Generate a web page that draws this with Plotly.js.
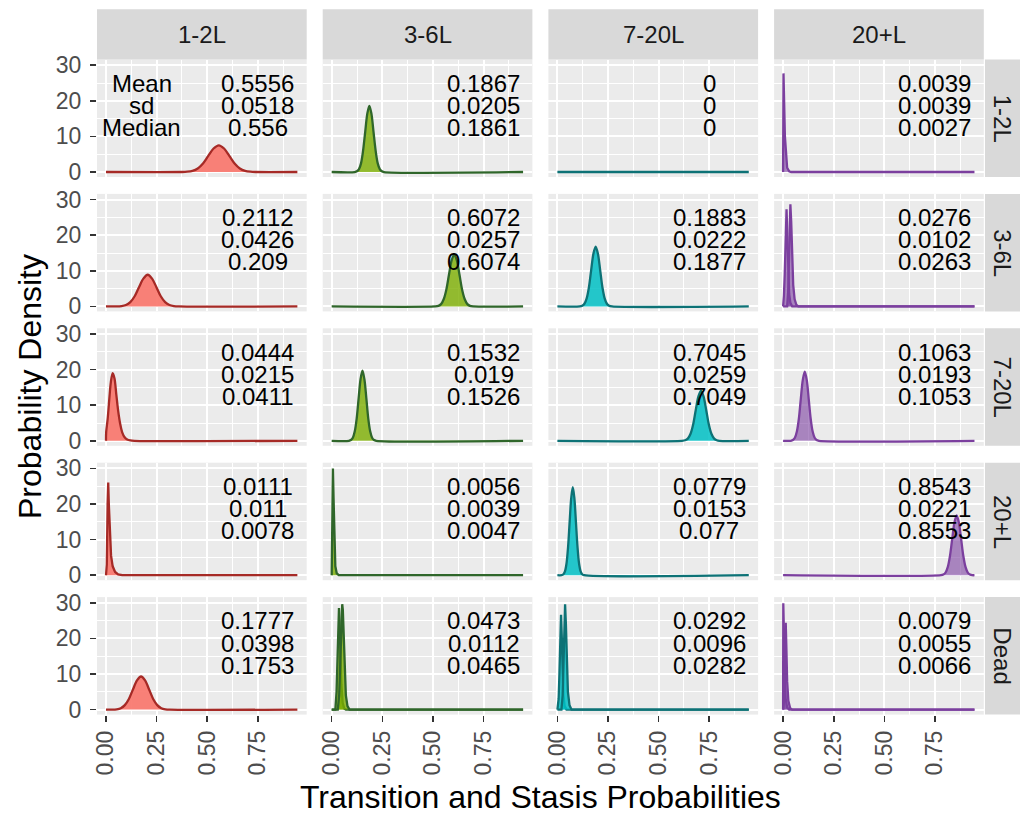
<!DOCTYPE html>
<html><head><meta charset="utf-8">
<script src="https://cdn.plot.ly/plotly-3.0.1.min.js"></script>
<style>html,body{margin:0;padding:0;background:#fff}#chart{width:1024px;height:815px}</style>
</head><body><div id="chart"></div>
<script>
// ---- facet labels ----
const colLabels = ["1-2L", "3-6L", "7-20L", "20+L"];
const rowLabels = ["1-2L", "3-6L", "7-20L", "20+L", "Dead"];
const statNames = ["Mean", "sd", "Median"];

// ---- summary statistics (row-major: row 1-2L cols 1..4, row 3-6L ...) ----
const meanLabels = ["0.5556","0.1867","0","0.0039",
                    "0.2112","0.6072","0.1883","0.0276",
                    "0.0444","0.1532","0.7045","0.1063",
                    "0.0111","0.0056","0.0779","0.8543",
                    "0.1777","0.0473","0.0292","0.0079"];
const sdLabels = ["0.0518","0.0205","0","0.0039",
                  "0.0426","0.0257","0.0222","0.0102",
                  "0.0215","0.019","0.0259","0.0193",
                  "0.011","0.0039","0.0153","0.0221",
                  "0.0398","0.0112","0.0096","0.0055"];
const medianLabels = ["0.556","0.1861","0","0.0027",
                      "0.209","0.6074","0.1877","0.0263",
                      "0.0411","0.1526","0.7049","0.1053",
                      "0.0078","0.0047","0.077","0.8553",
                      "0.1753","0.0465","0.0282","0.0066"];

// ---- tick labels ----
const xTickVals = [0, 0.25, 0.5, 0.75];
const xTickText = ["0.00", "0.25", "0.50", "0.75"];
const yTickVals = [0, 10, 20, 30];
const yTickText = ["0", "10", "20", "30"];

// ---- density curves (x, density) ----
const c11x = [0, 0.375, 0.401, 0.427, 0.453, 0.479, 0.505, 0.531, 0.557, 0.583, 0.609, 0.635, 0.661, 0.687, 0.713, 0.739, 0.945];
const c11y = [0, 0, 0.08, 0.33, 1.0, 2.4, 4.55, 6.6, 7.5, 6.6, 4.55, 2.4, 1.0, 0.33, 0.08, 0, 0];
const c12x = [0, 0.114, 0.1245, 0.1348, 0.145, 0.155, 0.1655, 0.1758, 0.186, 0.1962, 0.2065, 0.217, 0.227, 0.2375, 0.2475, 0.258, 0.945];
const c12y = [0, 0, 0.2, 0.8, 2.5, 6.0, 11.3, 16.4, 18.6, 16.4, 11.3, 6.0, 2.5, 0.8, 0.2, 0, 0];
const c13x = [0, 0.945];
const c13y = [0, 0];
const c14x = [0, 0.002, 0.005, 0.009, 0.014, 0.02, 0.03, 0.04, 0.945];
const c14y = [0, 27.7, 20, 10, 4, 1.2, 0.2, 0, 0];

const c21x = [0, 0.05, 0.077, 0.0985, 0.120, 0.1415, 0.163, 0.1845, 0.206, 0.2275, 0.249, 0.2705, 0.292, 0.3135, 0.335, 0.36, 0.945];
const c21y = [0, 0, 0.1, 0.39, 1.2, 2.85, 5.4, 7.8, 8.9, 7.8, 5.4, 2.85, 1.2, 0.39, 0.1, 0, 0];
const c22x = [0, 0.51, 0.527, 0.540, 0.553, 0.566, 0.579, 0.592, 0.605, 0.618, 0.631, 0.644, 0.657, 0.670, 0.683, 0.70, 0.945];
const c22y = [0, 0, 0.15, 0.64, 2.0, 4.7, 8.9, 12.9, 14.6, 12.9, 8.9, 4.7, 2.0, 0.64, 0.15, 0, 0];
const c23x = [0, 0.11, 0.1224, 0.1335, 0.1446, 0.1557, 0.1668, 0.1779, 0.189, 0.2001, 0.2112, 0.2223, 0.2334, 0.2445, 0.2556, 0.27, 0.945];
const c23y = [0, 0, 0.19, 0.74, 2.27, 5.4, 10.2, 14.8, 16.8, 14.8, 10.2, 5.4, 2.27, 0.74, 0.19, 0, 0];
const c24x = [0, 0.004, 0.008, 0.012, 0.017, 0.021, 0.025, 0.03, 0.036, 0.045, 0.945];
const c24y = [0, 3, 9, 18, 27.3, 20, 10, 3.5, 1, 0, 0];
const c24bx = [0, 0.02, 0.025, 0.029, 0.033, 0.036, 0.04, 0.045, 0.05, 0.057, 0.066, 0.075, 0.945];
const c24by = [0, 0, 4, 13, 24, 28.7, 24, 14, 6, 2, 0.4, 0, 0];

const c31x = [0, 0.001, 0.008, 0.016, 0.024, 0.033, 0.042, 0.051, 0.06, 0.07, 0.08, 0.092, 0.105, 0.12, 0.14, 0.945];
const c31y = [0, 2.5, 6, 11.5, 16.5, 19.0, 17.5, 13, 8.5, 4.8, 2.4, 1.0, 0.35, 0.1, 0, 0];
const c32x = [0, 0.085, 0.095, 0.1045, 0.114, 0.1235, 0.133, 0.1425, 0.152, 0.1615, 0.171, 0.1805, 0.19, 0.1995, 0.209, 0.22, 0.945];
const c32y = [0, 0, 0.22, 0.87, 2.66, 6.3, 12.0, 17.3, 19.7, 17.3, 12.0, 6.3, 2.66, 0.87, 0.22, 0, 0];
const c33x = [0, 0.615, 0.631, 0.644, 0.657, 0.670, 0.683, 0.696, 0.709, 0.722, 0.735, 0.748, 0.761, 0.774, 0.787, 0.80, 0.945];
const c33y = [0, 0, 0.16, 0.62, 1.9, 4.5, 8.6, 12.4, 14.1, 12.4, 8.6, 4.5, 1.9, 0.62, 0.16, 0, 0];
const c34x = [0, 0.038, 0.0485, 0.0583, 0.068, 0.0778, 0.0875, 0.0973, 0.107, 0.1168, 0.1265, 0.1363, 0.146, 0.1558, 0.1655, 0.177, 0.945];
const c34y = [0, 0, 0.21, 0.85, 2.6, 6.2, 11.8, 17.1, 19.4, 17.1, 11.8, 6.2, 2.6, 0.85, 0.21, 0, 0];

const c41x = [0, 0.004, 0.008, 0.011, 0.014, 0.019, 0.025, 0.033, 0.045, 0.06, 0.08, 0.945];
const c41y = [0, 3, 20, 26, 20, 11, 5.5, 2.5, 0.9, 0.2, 0, 0];
const c42x = [0, 0.003, 0.006, 0.009, 0.013, 0.018, 0.025, 0.035, 0.945];
const c42y = [0, 10, 30, 22, 9, 2.5, 0.5, 0, 0];
const c43x = [0, 0.02, 0.0295, 0.0373, 0.045, 0.0528, 0.0605, 0.0683, 0.076, 0.0838, 0.0915, 0.0993, 0.107, 0.1148, 0.1225, 0.132, 0.945];
const c43y = [0, 0, 0.27, 1.1, 3.3, 8.0, 15.0, 21.7, 24.7, 21.7, 15.0, 8.0, 3.3, 1.1, 0.27, 0, 0];
const c44x = [0, 0.78, 0.791, 0.802, 0.813, 0.824, 0.835, 0.846, 0.857, 0.868, 0.879, 0.890, 0.901, 0.912, 0.923, 0.934, 0.945];
const c44y = [0, 0, 0.19, 0.74, 2.27, 5.4, 10.2, 14.8, 16.8, 14.8, 10.2, 5.4, 2.27, 0.74, 0.19, 0, 0];

const c51x = [0, 0.03, 0.053, 0.073, 0.093, 0.113, 0.133, 0.153, 0.173, 0.193, 0.213, 0.233, 0.253, 0.273, 0.293, 0.315, 0.945];
const c51y = [0, 0, 0.1, 0.41, 1.26, 2.98, 5.65, 8.2, 9.3, 8.2, 5.65, 2.98, 1.26, 0.41, 0.1, 0, 0];
const c52x = [0, 0.018, 0.024, 0.029, 0.033, 0.036, 0.039, 0.043, 0.048, 0.054, 0.062, 0.07, 0.945];
const c52y = [0, 0, 5, 16, 25, 28.5, 25, 16, 7, 2, 0.3, 0, 0];
const c52bx = [0, 0.03, 0.037, 0.042, 0.046, 0.049, 0.052, 0.055, 0.059, 0.064, 0.07, 0.078, 0.088, 0.945];
const c52by = [0, 0, 4, 13, 23, 28, 29.6, 28, 21, 11, 4, 1, 0, 0];
const c53x = [0, 0.006, 0.010, 0.014, 0.018, 0.022, 0.026, 0.030, 0.036, 0.045, 0.945];
const c53y = [0, 3, 10, 20, 26.6, 20, 10, 4, 1, 0, 0];
const c53bx = [0, 0.02, 0.026, 0.030, 0.034, 0.038, 0.042, 0.046, 0.052, 0.06, 0.07, 0.945];
const c53by = [0, 0, 4, 12, 23, 29.6, 24, 14, 5, 1.2, 0, 0];
const c54x = [0, 0.001, 0.004, 0.008, 0.013, 0.02, 0.03, 0.945];
const c54y = [0, 29.9, 22, 10, 3, 0.6, 0, 0];
const c54bx = [0, 0.006, 0.01, 0.013, 0.016, 0.02, 0.026, 0.035, 0.045, 0.945];
const c54by = [0, 3, 18, 24.4, 18, 8, 2.5, 0.4, 0, 0];

// ---- panel -> curves table ----
const panelCurves = [
  [[c11x, c11y]], [[c12x, c12y]], [[c13x, c13y]], [[c14x, c14y]],
  [[c21x, c21y]], [[c22x, c22y]], [[c23x, c23y]], [[c24x, c24y], [c24bx, c24by]],
  [[c31x, c31y]], [[c32x, c32y]], [[c33x, c33y]], [[c34x, c34y]],
  [[c41x, c41y]], [[c42x, c42y]], [[c43x, c43y]], [[c44x, c44y]],
  [[c51x, c51y]], [[c52x, c52y], [c52bx, c52by]], [[c53x, c53y], [c53bx, c53by]], [[c54x, c54y], [c54bx, c54by]]
];
const spikePanels = [3, 7, 12, 13, 17, 18, 19];

// ---- styling ----
const lineColors = ["#A62A26", "#2F662A", "#0D7276", "#7B3F9E"];
const fillColors = ["rgba(248,118,109,0.92)", "rgba(124,174,0,0.8)", "rgba(0,191,196,0.85)", "rgba(123,63,160,0.6)"];
const W = 1024, H = 815;
const FONT = "Liberation Sans, Arial, Helvetica, sans-serif";
const panelL0 = 97, panelPitchX = 225.7, panelW = 209.7;
const panelT0 = 59.5, panelPitchY = 134.4, panelH = 117.5;
const statFont = 24, stripFont = 24, tickFont = 23, titleFont = 32;

const traces = [];
const layout = {
  width: W, height: H,
  margin: {l: 0, r: 0, t: 0, b: 0},
  paper_bgcolor: "#ffffff",
  plot_bgcolor: "#EBEBEB",
  showlegend: false,
  font: {family: FONT, color: "#000"},
  shapes: [], annotations: []
};

for (let i = 0; i < 20; i++) {
  const r = Math.floor(i / 4), c = i % 4;
  const suf = i === 0 ? "" : String(i + 1);
  const L = panelL0 + c * panelPitchX, R = L + panelW;
  const T = panelT0 + r * panelPitchY, B = T + panelH;
  const isBottom = r === 4, isLeft = c === 0;
  layout["xaxis" + suf] = {
    domain: [L / W, R / W], range: [-0.0444, 0.991], anchor: "y" + suf,
    tickmode: "array", tickvals: xTickVals, ticktext: xTickText,
    showticklabels: isBottom, ticks: isBottom ? "outside" : "", ticklen: 6, tickwidth: 1.6, tickcolor: "#333333",
    tickangle: -90, tickfont: {family: FONT, size: tickFont, color: "#4D4D4D"},
    showgrid: true, gridcolor: "#FFFFFF", gridwidth: 2,
    minor: {tickmode: "array", tickvals: [0.125, 0.375, 0.625, 0.875], showgrid: true, gridcolor: "#FFFFFF", gridwidth: 1, ticks: ""},
    zeroline: false, showline: false, fixedrange: true
  };
  layout["yaxis" + suf] = {
    domain: [1 - B / H, 1 - T / H], range: [-1.4, 31.6], anchor: "x" + suf,
    tickmode: "array", tickvals: yTickVals, ticktext: yTickText,
    showticklabels: isLeft, ticks: isLeft ? "outside" : "", ticklen: 6, tickwidth: 1.6, tickcolor: "#333333",
    tickfont: {family: FONT, size: tickFont, color: "#4D4D4D"}, ticklabelstandoff: 4,
    showgrid: true, gridcolor: "#FFFFFF", gridwidth: 2,
    minor: {tickmode: "array", tickvals: [5, 15, 25], showgrid: true, gridcolor: "#FFFFFF", gridwidth: 1, ticks: ""},
    zeroline: false, showline: false, fixedrange: true
  };
  const shape = spikePanels.includes(i) ? "linear" : "spline";
  panelCurves[i].forEach(([xs, ys]) => {
    traces.push({
      type: "scatter", mode: "lines", x: xs, y: ys,
      xaxis: "x" + suf, yaxis: "y" + suf,
      fill: "tozeroy", fillcolor: fillColors[c],
      line: {color: lineColors[c], width: 2.3, shape: shape, smoothing: 0.9},
      hoverinfo: "skip"
    });
  });
  // stats text
  const statY = [24.9, 18.7, 12.5];
  [meanLabels[i], sdLabels[i], medianLabels[i]].forEach((t, k) => {
    layout.annotations.push({
      xref: "x" + suf, yref: "y" + suf, x: 0.75, y: statY[k], text: t,
      showarrow: false, xanchor: "center", yanchor: "middle",
      font: {family: FONT, size: statFont, color: "#000"}
    });
    if (i === 0) {
      layout.annotations.push({
        xref: "x", yref: "y", x: 0.176, y: statY[k], text: statNames[k],
        showarrow: false, xanchor: "center", yanchor: "middle",
        font: {family: FONT, size: statFont, color: "#000"}
      });
    }
  });
  // top strips
  if (r === 0) {
    layout.shapes.push({type: "rect", xref: "paper", yref: "paper", x0: L / W, x1: R / W,
      y0: 1 - 59.5 / H, y1: 1 - 9.3 / H, fillcolor: "#D9D9D9", line: {width: 0}, layer: "below"});
    layout.annotations.push({xref: "paper", yref: "paper", x: (L + R) / 2 / W, y: 1 - 34.4 / H,
      text: colLabels[c], showarrow: false, xanchor: "center", yanchor: "middle",
      font: {family: FONT, size: stripFont, color: "#1A1A1A"}});
  }
  // right strips
  if (c === 3) {
    layout.shapes.push({type: "rect", xref: "paper", yref: "paper", x0: 985 / W, x1: 1020 / W,
      y0: 1 - B / H, y1: 1 - T / H, fillcolor: "#D9D9D9", line: {width: 0}, layer: "below"});
    layout.annotations.push({xref: "paper", yref: "paper", x: 1002.5 / W, y: 1 - (T + B) / 2 / H,
      text: rowLabels[r], showarrow: false, xanchor: "center", yanchor: "middle", textangle: 90,
      font: {family: FONT, size: stripFont, color: "#1A1A1A"}});
  }
}

// axis titles
layout.annotations.push({xref: "paper", yref: "paper", x: 540.5 / W, y: 1 - 797 / H,
  text: "Transition and Stasis Probabilities", showarrow: false, xanchor: "center", yanchor: "middle",
  font: {family: FONT, size: titleFont, color: "#000"}});
layout.annotations.push({xref: "paper", yref: "paper", x: 30 / W, y: 1 - 387 / H,
  text: "Probability Density", showarrow: false, xanchor: "center", yanchor: "middle", textangle: -90,
  font: {family: FONT, size: titleFont, color: "#000"}});

Plotly.newPlot("chart", traces, layout, {staticPlot: true, displayModeBar: false});
</script>
</body></html>
